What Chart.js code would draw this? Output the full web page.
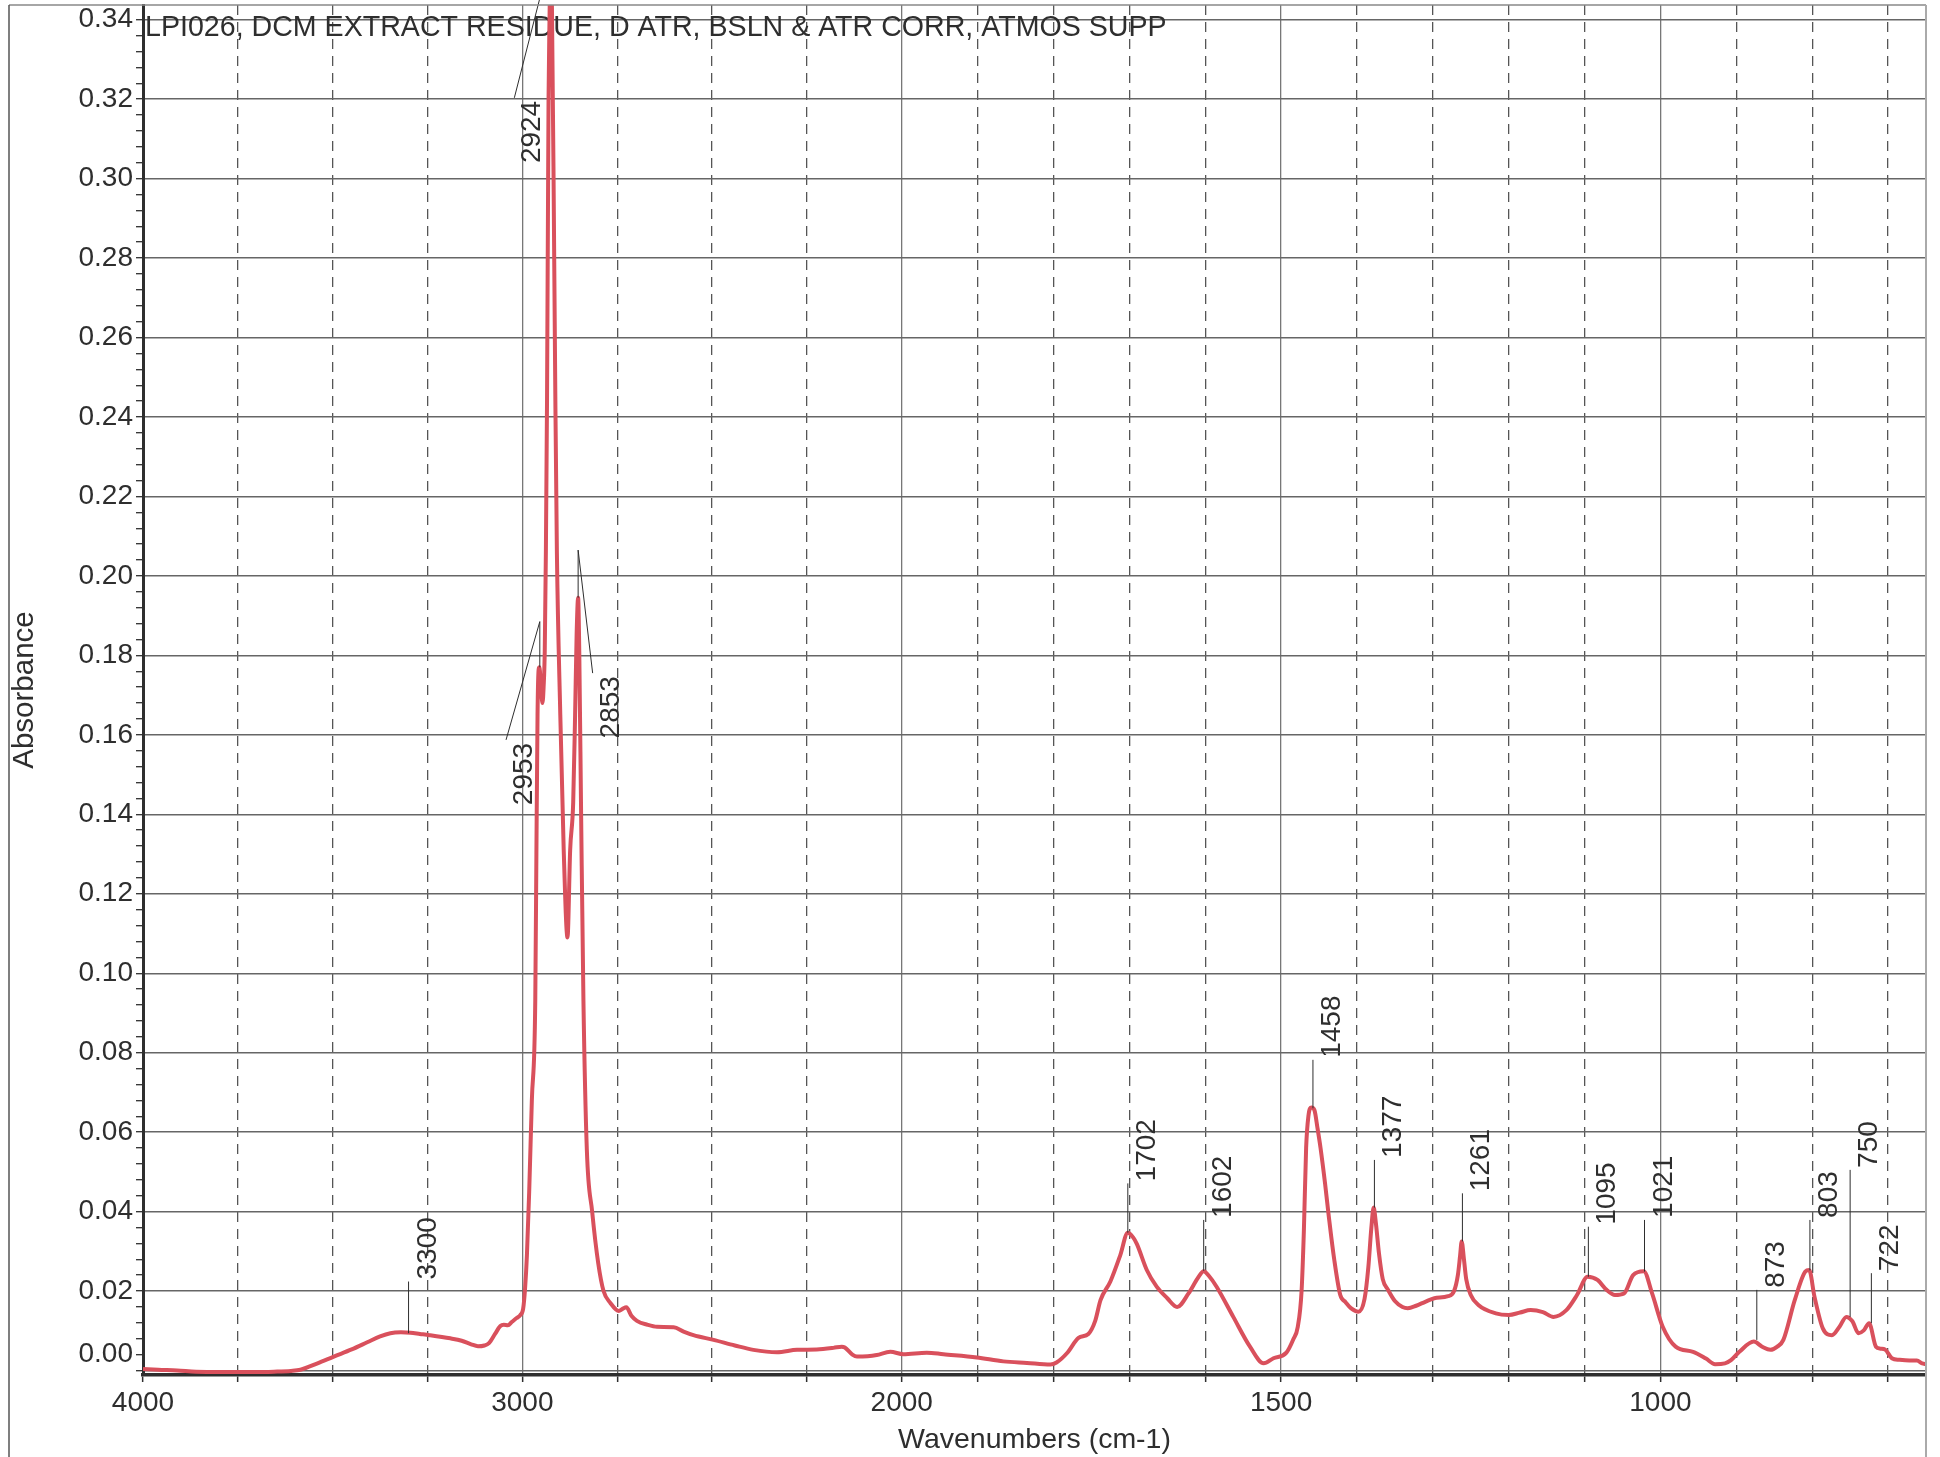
<!DOCTYPE html>
<html lang="en">
<head>
<meta charset="UTF-8">
<title>LPI026 DCM extract residue - IR spectrum</title>
<script src="https://cdn.jsdelivr.net/npm/chart.js"></script>
<style>
  html, body { margin: 0; padding: 0; background: #fff; }
  #wrap { width: 1940px; height: 1457px; position: relative; }
</style>
</head>
<body>
<div id="wrap"><canvas id="spectrum"></canvas></div>
<script>
// spectrum (wavenumber in cm-1, absorbance)
const wavenumbers = [
  4000, 3960, 3910, 3860, 3800, 3750, 3700, 3655, 3610, 3585,
  3540, 3497, 3450, 3409, 3375, 3348, 3320, 3295, 3270, 3245,
  3190, 3160, 3135, 3117, 3100, 3088, 3072, 3058, 3049, 3038,
  3028, 3015, 3005, 2998, 2993, 2988, 2982, 2975, 2966, 2963,
  2960, 2957, 2955, 2951, 2947, 2944, 2941, 2938, 2935, 2931,
  2928, 2925, 2922, 2918, 2913, 2909, 2900, 2891, 2881, 2874,
  2866, 2861, 2857, 2853, 2850, 2845, 2839, 2830, 2816, 2800,
  2786, 2768, 2746, 2736, 2726, 2712, 2698, 2670, 2645, 2601,
  2575, 2549, 2496, 2440, 2391, 2329, 2276, 2224, 2180, 2158,
  2150, 2130, 2118, 2090, 2066, 2030, 1998, 1967, 1945, 1901,
  1866, 1835, 1804, 1796, 1782, 1767, 1754, 1745, 1738, 1725,
  1712, 1702, 1695, 1690, 1677, 1664, 1650, 1637, 1622, 1610,
  1602, 1595, 1585, 1563, 1541, 1523, 1510, 1493, 1484, 1478,
  1473, 1470, 1467, 1464, 1460, 1456, 1452, 1448, 1442, 1437,
  1430, 1422, 1415, 1408, 1398, 1390, 1385, 1381, 1378, 1375,
  1371, 1366, 1359, 1350, 1340, 1333, 1322, 1310, 1298, 1280,
  1272, 1267, 1264, 1262, 1259, 1256, 1250, 1240, 1217, 1200,
  1185, 1171, 1155, 1141, 1124, 1110, 1096, 1083, 1071, 1060,
  1048, 1036, 1022, 1011, 997, 980, 957, 940, 928, 915,
  907, 896, 877, 866, 855, 846, 838, 823, 809, 804,
  797, 786, 774, 764, 755, 747, 739, 732, 725, 716,
  710, 704, 695, 685, 672, 662, 655, 650
];
const absorbance = [
  0.0004, 0.0002, 0.0000, -0.0003, -0.0004, -0.0004, -0.0004, -0.0003, -0.0001, 0.0002,
  0.0018, 0.0035, 0.0053, 0.0071, 0.0086, 0.0094, 0.0096, 0.0095, 0.0092, 0.0089,
  0.0081, 0.0075, 0.0066, 0.0061, 0.0063, 0.0069, 0.0092, 0.0112, 0.0115, 0.0114,
  0.0122, 0.0132, 0.0140, 0.0155, 0.0205, 0.0290, 0.0450, 0.0680, 0.0930, 0.1300,
  0.1650, 0.1765, 0.1770, 0.1720, 0.1680, 0.1720, 0.1810, 0.2060, 0.2440, 0.3200,
  0.3430, 0.3700, 0.3430, 0.3030, 0.2440, 0.2060, 0.1650, 0.1310, 0.1090, 0.1310,
  0.1430, 0.1650, 0.1850, 0.1945, 0.1810, 0.1390, 0.0930, 0.0555, 0.0400, 0.0270,
  0.0200, 0.0170, 0.0150, 0.0155, 0.0159, 0.0137, 0.0125, 0.0115, 0.0110, 0.0109,
  0.0098, 0.0089, 0.0077, 0.0063, 0.0052, 0.0046, 0.0052, 0.0053, 0.0057, 0.0060,
  0.0058, 0.0040, 0.0035, 0.0036, 0.0039, 0.0047, 0.0041, 0.0045, 0.0041, 0.0033,
  0.0023, 0.0019, 0.0015, 0.0020, 0.0044, 0.0082, 0.0092, 0.0125, 0.0177, 0.0224,
  0.0290, 0.0347, 0.0335, 0.0318, 0.0253, 0.0211, 0.0182, 0.0160, 0.0194, 0.0232,
  0.0250, 0.0238, 0.0211, 0.0135, 0.0060, 0.0018, 0.0031, 0.0045, 0.0078, 0.0110,
  0.0200, 0.0350, 0.0560, 0.0640, 0.0662, 0.0655, 0.0610, 0.0560, 0.0470, 0.0386,
  0.0280, 0.0190, 0.0172, 0.0157, 0.0148, 0.0180, 0.0260, 0.0360, 0.0410, 0.0370,
  0.0295, 0.0230, 0.0203, 0.0175, 0.0160, 0.0157, 0.0163, 0.0173, 0.0182, 0.0187,
  0.0200, 0.0240, 0.0290, 0.0325, 0.0280, 0.0230, 0.0190, 0.0165, 0.0144, 0.0140,
  0.0146, 0.0152, 0.0147, 0.0135, 0.0152, 0.0190, 0.0236, 0.0228, 0.0203, 0.0190,
  0.0194, 0.0240, 0.0250, 0.0194, 0.0110, 0.0060, 0.0047, 0.0030, 0.0016, 0.0018,
  0.0026, 0.0047, 0.0073, 0.0060, 0.0052, 0.0060, 0.0077, 0.0177, 0.0249, 0.0253,
  0.0186, 0.0106, 0.0089, 0.0110, 0.0135, 0.0124, 0.0094, 0.0101, 0.0119, 0.0060,
  0.0055, 0.0053, 0.0031, 0.0027, 0.0025, 0.0025, 0.0018, 0.0016
];

// x axis: labelled (solid grid) and dashed positions
const xMajorTicks = [4000, 3000, 2000, 1500, 1000];
const xMinorTicks = [3750, 3500, 3250, 2750, 2500, 2250, 1900, 1800, 1700, 1600,
                     1400, 1300, 1200, 1100, 900, 800, 700];

// peak labels with a straight leader
const peakLabels   = ['3300', '1702', '1602', '1458', '1377', '1261', '1095', '1021', '873', '803', '750', '722'];
const peakWn       = [3300, 1702, 1602, 1458, 1377, 1261, 1095, 1021, 873, 803, 750, 722];
const peakAbs      = [0.0094, 0.0347, 0.0251, 0.0660, 0.0410, 0.0325, 0.0236, 0.0249, 0.0077, 0.0252, 0.0135, 0.0119];
const labelBaseAbs = [0.0224, 0.0471, 0.0379, 0.0782, 0.0530, 0.0446, 0.0362, 0.0379, 0.0203, 0.0379, 0.0505, 0.0245];

// peak labels hanging below, with a bent leader
const bentLabels   = ['2953', '2924', '2853'];
const bentPeakWn   = [2954, 2925, 2853];
const bentPeakAbs  = [0.1770, 0.3700, 0.1945];
const bentElbowAbs = [0.1885, 0.3562, 0.2065];
const bentTextWn   = [2974.5, 2952.6, 2746.2];
const bentTextAbs  = [0.1423, 0.3039, 0.1591];

const chartTitle = 'LPI026, DCM EXTRACT RESIDUE, D ATR, BSLN & ATR CORR, ATMOS SUPP';

const FONT = "'Liberation Sans', Arial, sans-serif";
const INK = '#2e2e2e';

// wavenumber axis with a 2x expansion below 2000 cm-1
const BREAK = 2000;
class SplitWavenumberScale extends Chart.LinearScale {
  static id = 'splitwn';
  units(v) {
    return v >= BREAK ? (this.max - v) / 2 : (this.max - BREAK) / 2 + (BREAK - v);
  }
  getPixelForValue(v) {
    return this.left + this.width * this.units(v) / this.units(this.min);
  }
  getValueForPixel(p) {
    const u = (p - this.left) / this.width * this.units(this.min);
    const uBreak = (this.max - BREAK) / 2;
    return u <= uBreak ? this.max - 2 * u : BREAK - (u - uBreak);
  }
}
Chart.register(SplitWavenumberScale);

const decor = {
  id: 'decor',
  beforeDraw(chart) {
    const c = chart.ctx;
    c.save();
    c.fillStyle = '#fff';
    c.fillRect(0, 0, chart.width, chart.height);
    c.restore();
  },
  beforeDatasetsDraw(chart) {
    const c = chart.ctx, a = chart.chartArea;
    c.save();
    c.fillStyle = INK;
    c.font = '28.6px ' + FONT;
    c.textAlign = 'left';
    c.textBaseline = 'alphabetic';
    c.fillText(chartTitle, a.left + 2, a.top + 31);
    c.restore();
  },
  afterDatasetsDraw(chart) {
    const c = chart.ctx;
    const xs = chart.scales.x, ys = chart.scales.y;
    c.save();
    c.strokeStyle = INK;
    c.fillStyle = INK;
    c.lineWidth = 1;
    c.font = '28px ' + FONT;
    c.textAlign = 'left';
    c.textBaseline = 'alphabetic';

    for (let i = 0; i < peakLabels.length; i++) {
      const x = xs.getPixelForValue(peakWn[i]);
      const yPeak = ys.getPixelForValue(peakAbs[i]);
      const yTop = ys.getPixelForValue(labelBaseAbs[i]);
      c.beginPath();
      c.moveTo(x, yPeak);
      c.lineTo(x, yTop);
      c.stroke();
      c.save();
      c.translate(x + 27, yTop - 2);
      c.rotate(-Math.PI / 2);
      c.fillText(peakLabels[i], 0, 0);
      c.restore();
    }

    for (let i = 0; i < bentLabels.length; i++) {
      const bx = xs.getPixelForValue(bentTextWn[i]);
      const by = ys.getPixelForValue(bentTextAbs[i]);
      const w = c.measureText(bentLabels[i]).width;
      const xp = xs.getPixelForValue(bentPeakWn[i]);
      c.beginPath();
      c.moveTo(bx - 26, by - w - 3);
      c.lineTo(xp, ys.getPixelForValue(bentElbowAbs[i]));
      c.lineTo(xp, ys.getPixelForValue(bentPeakAbs[i]));
      c.stroke();
      c.save();
      c.translate(bx, by);
      c.rotate(-Math.PI / 2);
      c.fillText(bentLabels[i], 0, 0);
      c.restore();
    }
    c.restore();
  },
  afterDraw(chart) {
    const c = chart.ctx, a = chart.chartArea;
    c.save();
    c.lineWidth = 1.5;
    c.strokeStyle = '#888';
    c.beginPath();
    c.moveTo(9, a.top);
    c.lineTo(a.right, a.top);
    c.stroke();
    c.strokeStyle = '#555';
    c.beginPath();
    c.moveTo(9, a.top);
    c.lineTo(9, chart.height);
    c.stroke();
    c.strokeStyle = '#aaa';
    c.lineWidth = 2;
    c.beginPath();
    c.moveTo(a.right, a.top);
    c.lineTo(a.right, chart.height);
    c.stroke();
    c.restore();
  }
};

const allXTicks = xMajorTicks.concat(xMinorTicks).sort((p, q) => q - p);

// keep tick labels from pushing the plot area around
function noOverhang(s) {
  s.paddingTop = 0;
  s.paddingBottom = 0;
  s.paddingLeft = 0;
  s.paddingRight = 0;
}

new Chart(document.getElementById('spectrum'), {
  type: 'line',
  data: {
    datasets: [{
      label: 'Absorbance',
      data: wavenumbers.map((w, i) => ({ x: w, y: absorbance[i] })),
      borderColor: '#d9505c',
      borderWidth: 4,
      pointRadius: 0,
      cubicInterpolationMode: 'monotone',
      fill: false
    }]
  },
  options: {
    responsive: true,
    maintainAspectRatio: false,
    animation: false,
    devicePixelRatio: 1,
    events: [],
    layout: { padding: { top: 5, right: 14, left: 0, bottom: 0 } },
    plugins: { legend: { display: false }, tooltip: { enabled: false } },
    scales: {
      x: {
        type: 'splitwn',
        position: 'bottom',
        min: 650,
        max: 4000,
        afterBuildTicks: s => { s.ticks = allXTicks.map(v => ({ value: v })); },
        afterFit: s => { s.height = 82; noOverhang(s); },
        ticks: {
          autoSkip: false,
          maxRotation: 0,
          padding: 4,
          color: INK,
          font: { family: FONT, size: 28 },
          callback: v => xMajorTicks.includes(v) ? String(v) : ''
        },
        grid: {
          color: c => (c.tick && c.tick.value !== 4000 && xMajorTicks.includes(c.tick.value)) ? '#777' : 'rgba(0,0,0,0)',
          lineWidth: 1.3,
          tickLength: 7,
          tickColor: INK,
          tickWidth: 1.5
        },
        border: { display: true, color: INK, width: 3.5 },
        title: {
          display: true,
          text: 'Wavenumbers (cm-1)',
          color: INK,
          font: { family: FONT, size: 28.5 },
          padding: { top: 0, bottom: 0 }
        }
      },
      xDash: {
        type: 'splitwn',
        position: 'top',
        min: 650,
        max: 4000,
        afterBuildTicks: s => { s.ticks = xMinorTicks.map(v => ({ value: v })); },
        afterFit: s => { s.height = 0; noOverhang(s); },
        ticks: { display: false },
        grid: { color: '#555', lineWidth: 1.3, drawTicks: false },
        border: { display: false, dash: [10, 7] }
      },
      y: {
        min: -0.00113,
        max: 0.3437,
        afterBuildTicks: s => {
          const t = [];
          for (let k = 0; k <= 85; k++) t.push({ value: k * 0.004 });
          s.ticks = t;
        },
        afterFit: s => { s.width = 143; noOverhang(s); },
        ticks: {
          autoSkip: false,
          padding: 3,
          color: INK,
          font: { family: FONT, size: 28 },
          callback: (v, k) => k === 1 ? '0.00' : (k > 0 && k % 5 === 0 ? (k * 0.004).toFixed(2) : '')
        },
        grid: {
          color: c => c.index % 5 === 0 ? '#666' : 'rgba(0,0,0,0)',
          lineWidth: 1.4,
          tickLength: 7,
          tickColor: INK,
          tickWidth: 1.3
        },
        border: { color: INK, width: 3 },
        title: {
          display: true,
          text: 'Absorbance',
          color: INK,
          font: { family: FONT, size: 29.5 },
          padding: { top: 7, bottom: 0 }
        }
      }
    }
  },
  plugins: [decor]
});
</script>
</body>
</html>
